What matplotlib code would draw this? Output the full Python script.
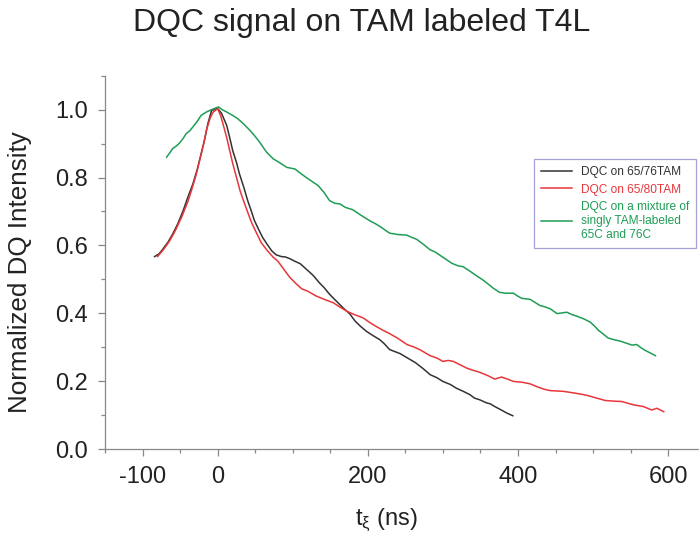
import numpy as np
import matplotlib
matplotlib.use('Agg')
import matplotlib.pyplot as plt
from matplotlib.ticker import MultipleLocator

plt.rcParams['font.family'] = ['Liberation Sans', 'DejaVu Sans']
plt.rcParams['mathtext.fontset'] = 'custom'
plt.rcParams['mathtext.rm'] = 'Liberation Sans'
plt.rcParams['mathtext.it'] = 'Liberation Sans'

# DQC on 65/76TAM
t_black = [-84, -78, -73, -66, -60, -53, -46, -40, -33, -27, -22, -17, -13, -8, 0,
           5, 12, 16, 20, 25, 29, 35, 40, 45, 49, 55, 60, 66, 72, 78, 85, 90, 96,
           103, 110, 118, 127, 135, 142, 149, 158, 167, 176, 183, 190, 198, 207,
           216, 222, 229, 236, 243, 253, 263, 273, 283, 292, 300, 310, 318, 327,
           336, 342, 349, 358, 363, 370, 376, 385, 393]
i_black = [0.567, 0.575, 0.589, 0.610, 0.633, 0.664, 0.702, 0.740, 0.781, 0.825,
           0.870, 0.915, 0.959, 0.998, 1.003, 0.990, 0.954, 0.918, 0.880, 0.845,
           0.811, 0.770, 0.732, 0.700, 0.673, 0.645, 0.623, 0.603, 0.584, 0.572,
           0.567, 0.566, 0.561, 0.553, 0.546, 0.530, 0.512, 0.491, 0.475, 0.456,
           0.436, 0.416, 0.398, 0.377, 0.362, 0.347, 0.334, 0.322, 0.310, 0.293,
           0.287, 0.281, 0.268, 0.255, 0.238, 0.219, 0.210, 0.199, 0.190, 0.179,
           0.170, 0.160, 0.150, 0.145, 0.136, 0.133, 0.124, 0.117, 0.106, 0.098]

# DQC on 65/80TAM
t_red = [-80, -72, -64, -56, -48, -40, -35, -29, -24, -19, -15, -10, -6, 0, 4, 7,
         12, 16, 20, 25, 30, 36, 45, 51, 58, 66, 74, 80, 88, 96, 104, 112, 120,
         131, 143, 154, 163, 172, 180, 194, 203, 212, 220, 229, 240, 252, 262,
         269, 283, 292, 300, 307, 314, 323, 332, 340, 349, 360, 369, 378, 386,
         394, 405, 416, 427, 435, 443, 460, 472, 483, 492, 500, 508, 516, 528,
         538, 546, 554, 567, 578, 585, 594]
i_red = [0.567, 0.588, 0.613, 0.645, 0.683, 0.727, 0.761, 0.805, 0.850, 0.895,
         0.939, 0.975, 0.993, 1.003, 0.982, 0.959, 0.918, 0.880, 0.842, 0.801,
         0.760, 0.722, 0.668, 0.640, 0.608, 0.585, 0.565, 0.554, 0.530, 0.506,
         0.488, 0.472, 0.465, 0.451, 0.440, 0.431, 0.418, 0.406, 0.398, 0.386,
         0.372, 0.360, 0.350, 0.340, 0.326, 0.308, 0.300, 0.293, 0.275, 0.268,
         0.258, 0.261, 0.258, 0.248, 0.238, 0.232, 0.226, 0.216, 0.206, 0.212,
         0.206, 0.199, 0.197, 0.192, 0.182, 0.176, 0.172, 0.170, 0.166, 0.162,
         0.158, 0.153, 0.148, 0.143, 0.141, 0.140, 0.135, 0.130, 0.125, 0.115,
         0.120, 0.110]

# DQC on a mixture of singly labeled 65C and 76C
t_green = [-68, -64, -60, -55, -51, -46, -42, -37, -33, -27, -22, -15, -8, 1, 6,
           12, 20, 27, 35, 43, 50, 56, 65, 74, 83, 92, 103, 110, 118, 126, 134,
           142, 149, 156, 163, 170, 180, 190, 203, 210, 218, 229, 240, 252, 258,
           265, 274, 283, 290, 296, 304, 312, 320, 327, 336, 345, 352, 358, 367,
           375, 383, 394, 400, 405, 416, 422, 429, 437, 443, 452, 465, 472, 480,
           488, 496, 502, 507, 514, 520, 528, 536, 544, 552, 558, 564, 569, 576,
           583]
i_green = [0.860, 0.872, 0.885, 0.893, 0.901, 0.915, 0.929, 0.938, 0.949, 0.966,
           0.983, 0.993, 1.000, 1.008, 1.000, 0.993, 0.983, 0.973, 0.957, 0.939,
           0.921, 0.904, 0.875, 0.855, 0.843, 0.830, 0.825, 0.813, 0.800, 0.788,
           0.776, 0.755, 0.732, 0.724, 0.722, 0.712, 0.705, 0.690, 0.672, 0.664,
           0.653, 0.636, 0.632, 0.630, 0.624, 0.618, 0.603, 0.587, 0.580, 0.571,
           0.559, 0.547, 0.540, 0.537, 0.524, 0.510, 0.500, 0.490, 0.474, 0.462,
           0.459, 0.459, 0.450, 0.444, 0.441, 0.433, 0.423, 0.418, 0.413, 0.399,
           0.403, 0.396, 0.390, 0.383, 0.374, 0.362, 0.350, 0.338, 0.327, 0.322,
           0.318, 0.312, 0.306, 0.308, 0.298, 0.291, 0.283, 0.275]

labels = ['DQC on 65/76TAM', 'DQC on 65/80TAM',
          'DQC on a mixture of\nsingly TAM-labeled\n65C and 76C']
colors = ['#333333', '#e8363a', '#1f9d55']

fig = plt.figure(figsize=(6.99, 5.38), dpi=100)
ax = fig.add_axes([105 / 699, 1 - 449 / 538, 1 - 105 / 699, (449 - 75.7) / 538])

for t, y, lab, c in zip([t_black, t_red, t_green], [i_black, i_red, i_green], labels, colors):
    ax.plot(t, y, color=c, lw=1.1, label=lab)

ax.set_xlim(-150, 641)
ax.set_ylim(0, 1.1)
ax.xaxis.set_minor_locator(MultipleLocator(50))
ax.yaxis.set_major_locator(MultipleLocator(0.2))
ax.yaxis.set_minor_locator(MultipleLocator(0.1))
ax.set_xticks([-100, 0, 200, 400, 600])
ax.set_xticklabels(['-100', '0', '200', '400', '600'])
ax.set_yticks([0, 0.2, 0.4, 0.6, 0.8, 1.0])
ax.set_yticklabels(['0.0', '0.2', '0.4', '0.6', '0.8', '1.0'])

for s in ['top', 'right']:
    ax.spines[s].set_visible(False)
for s in ['left', 'bottom']:
    ax.spines[s].set_color('#888888')
    ax.spines[s].set_linewidth(0.9)

ax.tick_params(which='major', direction='out', length=5, width=0.9, color='#888888',
               labelsize=17, labelcolor='#222222', pad=7)
ax.tick_params(which='minor', direction='out', length=3, width=0.9, color='#888888')

ax.set_ylabel('Normalized DQ Intensity', fontsize=18.7, color='#222222')
ax.yaxis.set_label_coords(-0.123, 0.474)
ax.set_xlabel(r'$\mathregular{t_{\xi}}$ (ns)', fontsize=17, color='#222222')
ax.xaxis.set_label_coords(0.473, -0.155)

fig.text(361.5 / 699, 1 - 30.7 / 538, 'DQC signal on TAM labeled T4L', fontsize=23,
         ha='center', va='baseline', color='#222222')

leg = ax.legend(loc='upper left', bbox_to_anchor=(534 / 699, 1 - 159 / 538),
                bbox_transform=fig.transFigure, borderaxespad=0, fontsize=8.6,
                handlelength=2.6, handletextpad=0.7, labelcolor='linecolor',
                fancybox=False, framealpha=1, labelspacing=0.45, borderpad=0.6)
leg.get_frame().set_edgecolor('#a3a3d6')
leg.get_frame().set_linewidth(0.9)

fig.savefig('out.png', dpi=100)
